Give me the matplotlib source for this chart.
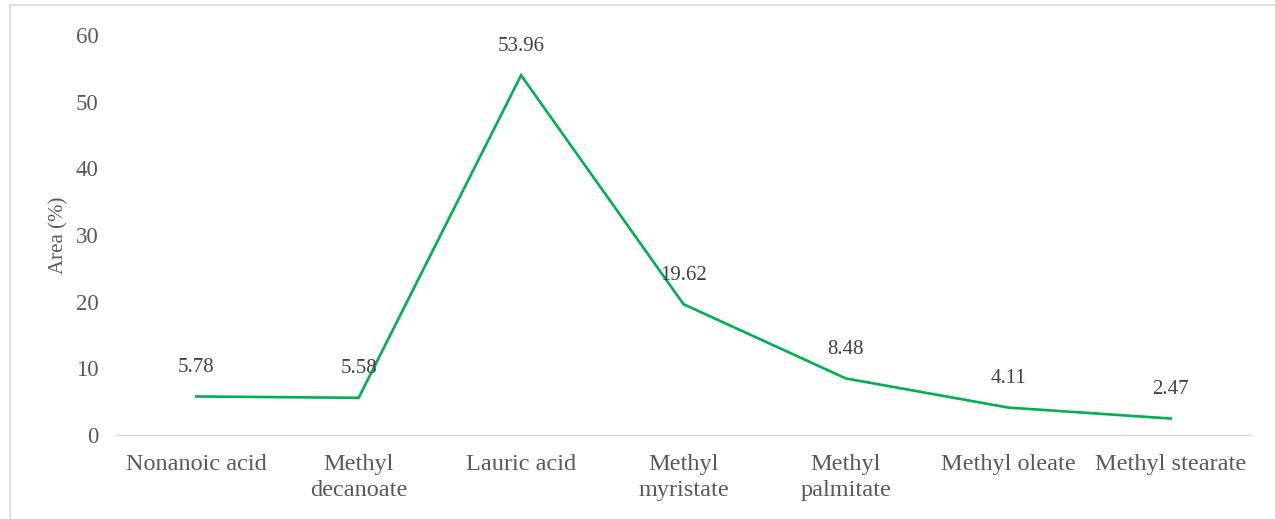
import matplotlib
matplotlib.use("Agg")
import matplotlib.pyplot as plt
from matplotlib.patches import Rectangle

categories = ["Nonanoic acid", "Methyl\ndecanoate", "Lauric acid", "Methyl\nmyristate",
              "Methyl\npalmitate", "Methyl oleate", "Methyl stearate"]
values = [5.78, 5.58, 53.96, 19.62, 8.48, 4.11, 2.47]
yticks = [0, 10, 20, 30, 40, 50, 60]

plt.rcParams['font.family'] = ['Liberation Serif', 'DejaVu Serif']

fig = plt.figure(figsize=(12.75, 5.19), dpi=100)
ax = fig.add_axes([115/1275, 1-435/519, (1252-115)/1275, 400/519])

# outer chart border (left and top visible)
fig.patches.append(Rectangle((10/1275, -0.1), 1.2, 1 - 5/519 + 0.1, transform=fig.transFigure,
                             fill=False, edgecolor='#d9d9d9', linewidth=1.2, zorder=0))
# title, clipped by the top edge as in the reference
fig.text(0.51, 1 + 2/519, "Figure 3: Fatty acid profile of VCO at optimum concentration in algae medium",
         ha='center', va='bottom', fontsize=11, fontweight='bold', color='black')

x = list(range(len(categories)))
ax.plot(x, values, color='#00B050', linewidth=1.9, solid_joinstyle='miter')
for xi, v in zip(x, values):
    ax.annotate(f"{v:.2f}", (xi, v), xytext=(0, 14), textcoords='offset points',
                ha='center', va='bottom', fontsize=15, color='#404040')

ax.set_xlim(-0.5, 6.5)
ax.set_ylim(0, 60)
ax.set_yticks(yticks)
ax.set_xticks(x)
ax.set_xticklabels(categories, fontsize=17.5, color='#595959', linespacing=1.3)
ax.tick_params(axis='y', labelsize=16.5, labelcolor='#595959', length=0, pad=12)
ax.tick_params(axis='x', length=0, pad=14)
for s in ['top', 'right', 'left']:
    ax.spines[s].set_visible(False)
ax.spines['bottom'].set_color('#d9d9d9')
ax.spines['bottom'].set_linewidth(1.0)
ax.set_ylabel("Area (%)", fontsize=15, color='#595959', labelpad=5)

fig.savefig("out.png", dpi=100)
